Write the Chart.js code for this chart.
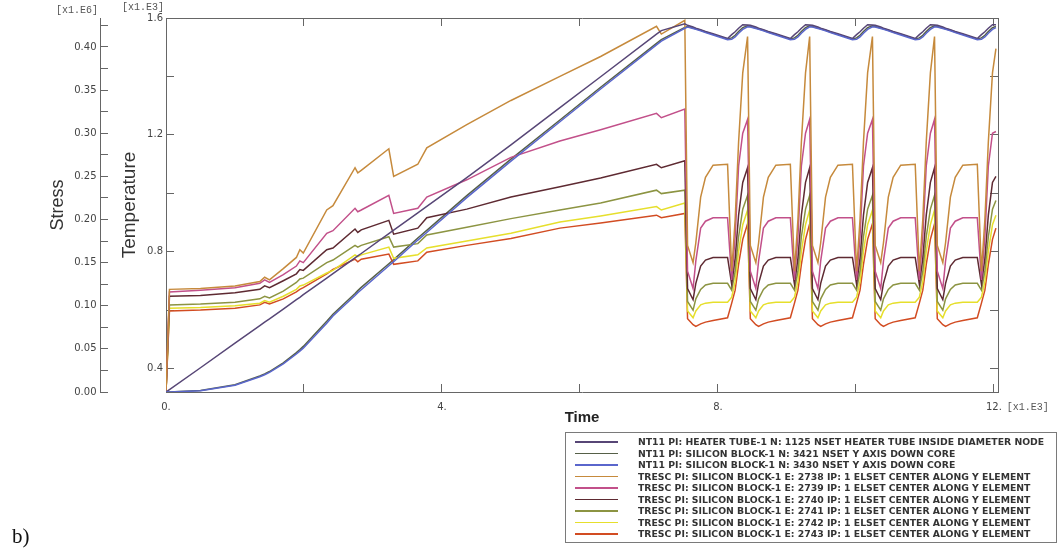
<!DOCTYPE html>
<html>
<head>
<meta charset="utf-8">
<script src="https://cdn.jsdelivr.net/npm/chart.js@4.4.0/dist/chart.umd.min.js"></script>
<style>
  body { margin: 0; background: #fff; }
  #wrap { position: relative; width: 1062px; height: 550px; }
  #legend {
    position: absolute; left: 565px; top: 432px; width: 492px; height: 111px;
    box-sizing: border-box; border: 1px solid #7a7a7a; padding-top: 3px;
    font: bold 9.3px "DejaVu Sans", sans-serif; color: #333; white-space: nowrap;
  }
  #legend .row { height: 11.5px; display: flex; align-items: center; }
  #legend .swatch { width: 43px; height: 1.5px; margin-left: 9px; margin-right: 20px; flex: none; }
  #tag { position: absolute; left: 12px; top: 524px; font: 21px "Liberation Serif", serif; color: #111; }
</style>
</head>
<body>
<div id="wrap">
  <canvas id="plot" width="1062" height="550"></canvas>
  <div id="legend"></div>
  <div id="tag">b)</div>
</div>
<script>
// time in 1.E3 s: heating ramp, then five thermal cycles
const TIME = [
  0, 0.05, 0.5, 1.0, 1.36, 1.43, 1.5, 1.7, 1.89, 1.94, 1.99, 2.33, 2.42, 2.74, 2.78, 2.83,
  3.23, 3.30, 3.65, 3.78, 4.36, 5.0, 5.71, 6.3, 7.11, 7.18, 7.52,
  7.56, 7.64, 7.68, 7.75, 7.82, 7.93, 8.14, 8.20, 8.25, 8.30, 8.36, 8.43,
  8.47, 8.55, 8.59, 8.66, 8.73, 8.84, 9.05, 9.11, 9.16, 9.21, 9.27, 9.33,
  9.37, 9.45, 9.49, 9.56, 9.63, 9.74, 9.95, 10.01, 10.06, 10.11, 10.17, 10.24,
  10.28, 10.36, 10.40, 10.47, 10.54, 10.65, 10.86, 10.92, 10.97, 11.02, 11.08, 11.14,
  11.18, 11.26, 11.30, 11.37, 11.44, 11.55, 11.76, 11.82, 11.87, 11.92, 11.98, 12.03
];

// NT11 temperatures, 1.E3
const NT11_1125 = [
  0.320, 0.328, 0.403, 0.487, 0.547, 0.559, 0.570, 0.604, 0.636, 0.644, 0.653, 0.710, 0.725, 0.779, 0.786, 0.794,
  0.862, 0.874, 0.933, 0.955, 1.054, 1.166, 1.293, 1.399, 1.545, 1.557, 1.580,
  1.575, 1.569, 1.565, 1.560, 1.554, 1.546, 1.530, 1.543, 1.553, 1.565, 1.577, 1.576,
  1.575, 1.569, 1.565, 1.560, 1.554, 1.546, 1.530, 1.543, 1.553, 1.565, 1.577, 1.576,
  1.575, 1.569, 1.565, 1.560, 1.554, 1.546, 1.530, 1.543, 1.553, 1.565, 1.577, 1.576,
  1.575, 1.569, 1.565, 1.560, 1.554, 1.546, 1.530, 1.543, 1.553, 1.565, 1.577, 1.576,
  1.575, 1.569, 1.565, 1.560, 1.554, 1.546, 1.530, 1.543, 1.553, 1.565, 1.577, 1.577
];
const NT11_3421 = [
  0.320, 0.320, 0.325, 0.345, 0.375, 0.382, 0.390, 0.420, 0.455, 0.465, 0.476, 0.562, 0.586, 0.657, 0.667, 0.678,
  0.759, 0.773, 0.847, 0.873, 0.992, 1.117, 1.251, 1.363, 1.513, 1.526, 1.568,
  1.571, 1.566, 1.563, 1.558, 1.552, 1.544, 1.528, 1.532, 1.541, 1.554, 1.567, 1.573,
  1.571, 1.566, 1.563, 1.558, 1.552, 1.544, 1.528, 1.532, 1.541, 1.554, 1.567, 1.573,
  1.571, 1.566, 1.563, 1.558, 1.552, 1.544, 1.528, 1.532, 1.541, 1.554, 1.567, 1.573,
  1.571, 1.566, 1.563, 1.558, 1.552, 1.544, 1.528, 1.532, 1.541, 1.554, 1.567, 1.573,
  1.571, 1.566, 1.563, 1.558, 1.552, 1.544, 1.528, 1.532, 1.541, 1.554, 1.567, 1.571
];
const NT11_3430 = [
  0.320, 0.320, 0.324, 0.343, 0.372, 0.379, 0.387, 0.416, 0.450, 0.460, 0.470, 0.555, 0.580, 0.650, 0.660, 0.670,
  0.752, 0.766, 0.840, 0.866, 0.985, 1.110, 1.245, 1.357, 1.508, 1.521, 1.565,
  1.569, 1.564, 1.561, 1.556, 1.550, 1.542, 1.526, 1.527, 1.535, 1.548, 1.561, 1.570,
  1.569, 1.564, 1.561, 1.556, 1.550, 1.542, 1.526, 1.527, 1.535, 1.548, 1.561, 1.570,
  1.569, 1.564, 1.561, 1.556, 1.550, 1.542, 1.526, 1.527, 1.535, 1.548, 1.561, 1.570,
  1.569, 1.564, 1.561, 1.556, 1.550, 1.542, 1.526, 1.527, 1.535, 1.548, 1.561, 1.570,
  1.569, 1.564, 1.561, 1.556, 1.550, 1.542, 1.526, 1.527, 1.535, 1.548, 1.561, 1.567
];

// TRESC stresses, 1.E6
const TRESC_2738 = [
  0, 0.119, 0.120, 0.123, 0.128, 0.133, 0.130, 0.143, 0.156, 0.165, 0.161, 0.211, 0.216, 0.260, 0.254, 0.257,
  0.282, 0.250, 0.264, 0.283, 0.310, 0.338, 0.366, 0.389, 0.424, 0.415, 0.431,
  0.170, 0.150, 0.173, 0.226, 0.249, 0.263, 0.264, 0.140, 0.200, 0.290, 0.370, 0.412,
  0.170, 0.150, 0.173, 0.226, 0.249, 0.263, 0.264, 0.140, 0.200, 0.290, 0.370, 0.412,
  0.170, 0.150, 0.173, 0.226, 0.249, 0.263, 0.264, 0.140, 0.200, 0.290, 0.370, 0.412,
  0.170, 0.150, 0.173, 0.226, 0.249, 0.263, 0.264, 0.140, 0.200, 0.290, 0.370, 0.412,
  0.170, 0.150, 0.173, 0.226, 0.249, 0.263, 0.264, 0.140, 0.200, 0.290, 0.370, 0.398
];
const TRESC_2739 = [
  0, 0.116, 0.118, 0.121, 0.126, 0.130, 0.127, 0.136, 0.146, 0.152, 0.150, 0.184, 0.187, 0.213, 0.209, 0.211,
  0.228, 0.207, 0.213, 0.226, 0.246, 0.272, 0.291, 0.304, 0.323, 0.318, 0.328,
  0.140, 0.120, 0.152, 0.190, 0.198, 0.202, 0.202, 0.130, 0.180, 0.262, 0.300, 0.316,
  0.140, 0.120, 0.152, 0.190, 0.198, 0.202, 0.202, 0.130, 0.180, 0.262, 0.300, 0.316,
  0.140, 0.120, 0.152, 0.190, 0.198, 0.202, 0.202, 0.130, 0.180, 0.262, 0.300, 0.316,
  0.140, 0.120, 0.152, 0.190, 0.198, 0.202, 0.202, 0.130, 0.180, 0.262, 0.300, 0.316,
  0.140, 0.120, 0.152, 0.190, 0.198, 0.202, 0.202, 0.130, 0.180, 0.262, 0.300, 0.302
];
const TRESC_2740 = [
  0, 0.111, 0.112, 0.115, 0.119, 0.123, 0.121, 0.129, 0.137, 0.142, 0.141, 0.165, 0.167, 0.189, 0.185, 0.188,
  0.199, 0.183, 0.190, 0.202, 0.212, 0.226, 0.238, 0.248, 0.264, 0.260, 0.268,
  0.120, 0.107, 0.126, 0.146, 0.153, 0.156, 0.156, 0.125, 0.155, 0.205, 0.243, 0.260,
  0.120, 0.107, 0.126, 0.146, 0.153, 0.156, 0.156, 0.125, 0.155, 0.205, 0.243, 0.260,
  0.120, 0.107, 0.126, 0.146, 0.153, 0.156, 0.156, 0.125, 0.155, 0.205, 0.243, 0.260,
  0.120, 0.107, 0.126, 0.146, 0.153, 0.156, 0.156, 0.125, 0.155, 0.205, 0.243, 0.260,
  0.120, 0.107, 0.126, 0.146, 0.153, 0.156, 0.156, 0.125, 0.155, 0.205, 0.243, 0.250
];
const TRESC_2741 = [
  0, 0.101, 0.102, 0.104, 0.108, 0.111, 0.109, 0.117, 0.127, 0.131, 0.132, 0.150, 0.153, 0.170, 0.168, 0.170,
  0.180, 0.168, 0.172, 0.182, 0.191, 0.201, 0.211, 0.219, 0.234, 0.230, 0.234,
  0.105, 0.095, 0.108, 0.119, 0.124, 0.126, 0.126, 0.118, 0.140, 0.180, 0.212, 0.228,
  0.105, 0.095, 0.108, 0.119, 0.124, 0.126, 0.126, 0.118, 0.140, 0.180, 0.212, 0.228,
  0.105, 0.095, 0.108, 0.119, 0.124, 0.126, 0.126, 0.118, 0.140, 0.180, 0.212, 0.228,
  0.105, 0.095, 0.108, 0.119, 0.124, 0.126, 0.126, 0.118, 0.140, 0.180, 0.212, 0.228,
  0.105, 0.095, 0.108, 0.119, 0.124, 0.126, 0.126, 0.118, 0.140, 0.180, 0.212, 0.222
];
const TRESC_2742 = [
  0, 0.097, 0.098, 0.100, 0.103, 0.106, 0.104, 0.111, 0.119, 0.123, 0.124, 0.138, 0.141, 0.159, 0.157, 0.159,
  0.168, 0.155, 0.159, 0.167, 0.175, 0.184, 0.197, 0.204, 0.215, 0.211, 0.219,
  0.094, 0.086, 0.094, 0.101, 0.103, 0.104, 0.104, 0.110, 0.128, 0.163, 0.194, 0.211,
  0.094, 0.086, 0.094, 0.101, 0.103, 0.104, 0.104, 0.110, 0.128, 0.163, 0.194, 0.211,
  0.094, 0.086, 0.094, 0.101, 0.103, 0.104, 0.104, 0.110, 0.128, 0.163, 0.194, 0.211,
  0.094, 0.086, 0.094, 0.101, 0.103, 0.104, 0.104, 0.110, 0.128, 0.163, 0.194, 0.211,
  0.094, 0.086, 0.094, 0.101, 0.103, 0.104, 0.104, 0.110, 0.128, 0.163, 0.194, 0.205
];
const TRESC_2743 = [
  0, 0.094, 0.095, 0.097, 0.101, 0.104, 0.102, 0.108, 0.116, 0.119, 0.121, 0.137, 0.142, 0.154, 0.151, 0.154,
  0.160, 0.148, 0.152, 0.162, 0.170, 0.178, 0.190, 0.196, 0.205, 0.202, 0.207,
  0.085, 0.078, 0.076, 0.079, 0.081, 0.083, 0.086, 0.103, 0.118, 0.148, 0.177, 0.195,
  0.085, 0.078, 0.076, 0.079, 0.081, 0.083, 0.086, 0.103, 0.118, 0.148, 0.177, 0.195,
  0.085, 0.078, 0.076, 0.079, 0.081, 0.083, 0.086, 0.103, 0.118, 0.148, 0.177, 0.195,
  0.085, 0.078, 0.076, 0.079, 0.081, 0.083, 0.086, 0.103, 0.118, 0.148, 0.177, 0.195,
  0.085, 0.078, 0.076, 0.079, 0.081, 0.083, 0.086, 0.103, 0.118, 0.148, 0.177, 0.190
];

const LABELS = [
  'NT11 PI: HEATER TUBE-1 N: 1125 NSET HEATER TUBE INSIDE DIAMETER NODE',
  'NT11 PI: SILICON BLOCK-1 N: 3421 NSET Y AXIS DOWN CORE',
  'NT11 PI: SILICON BLOCK-1 N: 3430 NSET Y AXIS DOWN CORE',
  'TRESC PI: SILICON BLOCK-1 E: 2738 IP: 1 ELSET CENTER ALONG Y ELEMENT',
  'TRESC PI: SILICON BLOCK-1 E: 2739 IP: 1 ELSET CENTER ALONG Y ELEMENT',
  'TRESC PI: SILICON BLOCK-1 E: 2740 IP: 1 ELSET CENTER ALONG Y ELEMENT',
  'TRESC PI: SILICON BLOCK-1 E: 2741 IP: 1 ELSET CENTER ALONG Y ELEMENT',
  'TRESC PI: SILICON BLOCK-1 E: 2742 IP: 1 ELSET CENTER ALONG Y ELEMENT',
  'TRESC PI: SILICON BLOCK-1 E: 2743 IP: 1 ELSET CENTER ALONG Y ELEMENT'
];

const TIME_TICKS = [0, 2, 4, 6, 8, 10, 12];
const TEMP_TICKS = [0.4, 0.6, 0.8, 1.0, 1.2, 1.4, 1.6];
const STRESS_TICKS = [0, 0.025, 0.05, 0.075, 0.1, 0.125, 0.15, 0.175, 0.2, 0.225,
  0.25, 0.275, 0.3, 0.325, 0.35, 0.375, 0.4, 0.425];

const VALUES = [NT11_1125, NT11_3421, NT11_3430, TRESC_2738, TRESC_2739, TRESC_2740, TRESC_2741, TRESC_2742, TRESC_2743];
const COLORS = ['#574676', '#566048', '#5a66cc', '#c68a3c', '#c2508a', '#5e2a32', '#8c9442', '#e6df2c', '#d24c22'];
const AXES = ['yT', 'yT', 'yT', 'yS', 'yS', 'yS', 'yS', 'yS', 'yS'];
// the 3430 node curve sits on top of 3421
const DRAW_ORDER = [0, 1, -1, 0, 0, 0, 0, 0, 0];

const AXIS_COLOR = '#666';
const TICK_FONT = { family: 'DejaVu Sans', size: 10 };

const datasets = VALUES.map((vals, i) => ({
  label: LABELS[i],
  data: TIME.map((t, j) => ({ x: t, y: vals[j] })),
  yAxisID: AXES[i],
  order: DRAW_ORDER[i],
  borderColor: COLORS[i],
  borderWidth: 1.5,
  pointRadius: 0,
  tension: 0,
  fill: false
}));

// frame edges with inward tick marks, no labels
function mirrorAxis(position, min, max, ticks) {
  return {
    type: 'linear', position, min, max,
    afterBuildTicks: s => { s.ticks = ticks.map(v => ({ value: v })); },
    afterFit: s => { if (s.isHorizontal()) s.height = 0; else s.width = 0; },
    ticks: { display: false },
    grid: { drawOnChartArea: false, tickLength: -8, color: AXIS_COLOR },
    border: { color: AXIS_COLOR }
  };
}

// the [x1.E..] multipliers beside the axes
const multipliers = {
  id: 'multipliers',
  afterDraw(chart) {
    const { ctx, scales } = chart;
    ctx.save();
    ctx.font = '10px "Liberation Mono"';
    ctx.fillStyle = '#555';
    ctx.textBaseline = 'middle';
    ctx.textAlign = 'center';
    ctx.fillText('[x1.E6]', scales.yS.right - 23, 10);
    ctx.fillText('[x1.E3]', scales.yT.right - 23, 7);
    ctx.textAlign = 'left';
    ctx.fillText('[x1.E3]', scales.x.getPixelForValue(12) + 13, scales.x.top + 15);
    ctx.restore();
  }
};

const chart = new Chart(document.getElementById('plot'), {
  type: 'line',
  data: { datasets },
  plugins: [multipliers],
  options: {
    responsive: false,
    animation: false,
    layout: { padding: { left: 40, right: 64, top: 18, bottom: 122 } },
    plugins: { legend: { display: false }, tooltip: { enabled: false } },
    scales: {
      x: {
        type: 'linear', position: 'bottom', min: 0, max: 12.06,
        afterBuildTicks: s => { s.ticks = TIME_TICKS.map(v => ({ value: v })); },
        afterFit: s => { s.height = 36; },
        ticks: {
          color: '#444', font: TICK_FONT, padding: 17, maxRotation: 0,
          callback: v => (v % 4 === 0 ? v + '.' : '')
        },
        grid: { drawOnChartArea: false, tickLength: -8, color: AXIS_COLOR },
        border: { color: AXIS_COLOR },
        title: {
          display: true, text: 'Time', color: '#222',
          font: { family: 'Liberation Sans', size: 15, weight: 'bold' },
          padding: { top: 0, bottom: 1 }
        }
      },
      yT: {
        type: 'linear', position: 'left', weight: 0, min: 0.32, max: 1.6,
        afterBuildTicks: s => { s.ticks = TEMP_TICKS.map(v => ({ value: v })); },
        afterFit: s => { s.width = 66; },
        ticks: {
          color: '#444', font: TICK_FONT, padding: 11,
          callback: v => (Math.round(v * 10) % 4 === 0 ? v.toFixed(1) : '')
        },
        grid: { drawOnChartArea: false, tickLength: -8, color: AXIS_COLOR },
        border: { color: AXIS_COLOR },
        title: {
          display: true, text: 'Temperature', color: '#333',
          font: { family: 'Liberation Sans', size: 19 },
          padding: { top: 18, bottom: 0 }
        }
      },
      yS: {
        type: 'linear', position: 'left', weight: 1, min: 0, max: 0.4336,
        afterBuildTicks: s => { s.ticks = STRESS_TICKS.map(v => ({ value: v })); },
        afterFit: s => { s.width = 60; },
        ticks: {
          color: '#444', font: TICK_FONT, padding: 11.5,
          callback: v => (Math.round(v * 1000) % 50 === 0 ? v.toFixed(2) : '')
        },
        grid: { drawOnChartArea: false, tickLength: -8, color: AXIS_COLOR },
        border: { color: AXIS_COLOR },
        title: {
          display: true, text: 'Stress', color: '#333',
          font: { family: 'Liberation Sans', size: 18 },
          padding: { top: 7, bottom: 0 }
        }
      },
      xTop: mirrorAxis('top', 0, 12.06, TIME_TICKS),
      yRight: mirrorAxis('right', 0.32, 1.6, TEMP_TICKS)
    }
  }
});

// boxed legend under the plot, one row per curve
const legend = document.getElementById('legend');
chart.data.datasets.forEach(ds => {
  const row = document.createElement('div');
  row.className = 'row';
  const swatch = document.createElement('div');
  swatch.className = 'swatch';
  swatch.style.background = ds.borderColor;
  const text = document.createElement('span');
  text.textContent = ds.label;
  row.appendChild(swatch);
  row.appendChild(text);
  legend.appendChild(row);
});
</script>
</body>
</html>
